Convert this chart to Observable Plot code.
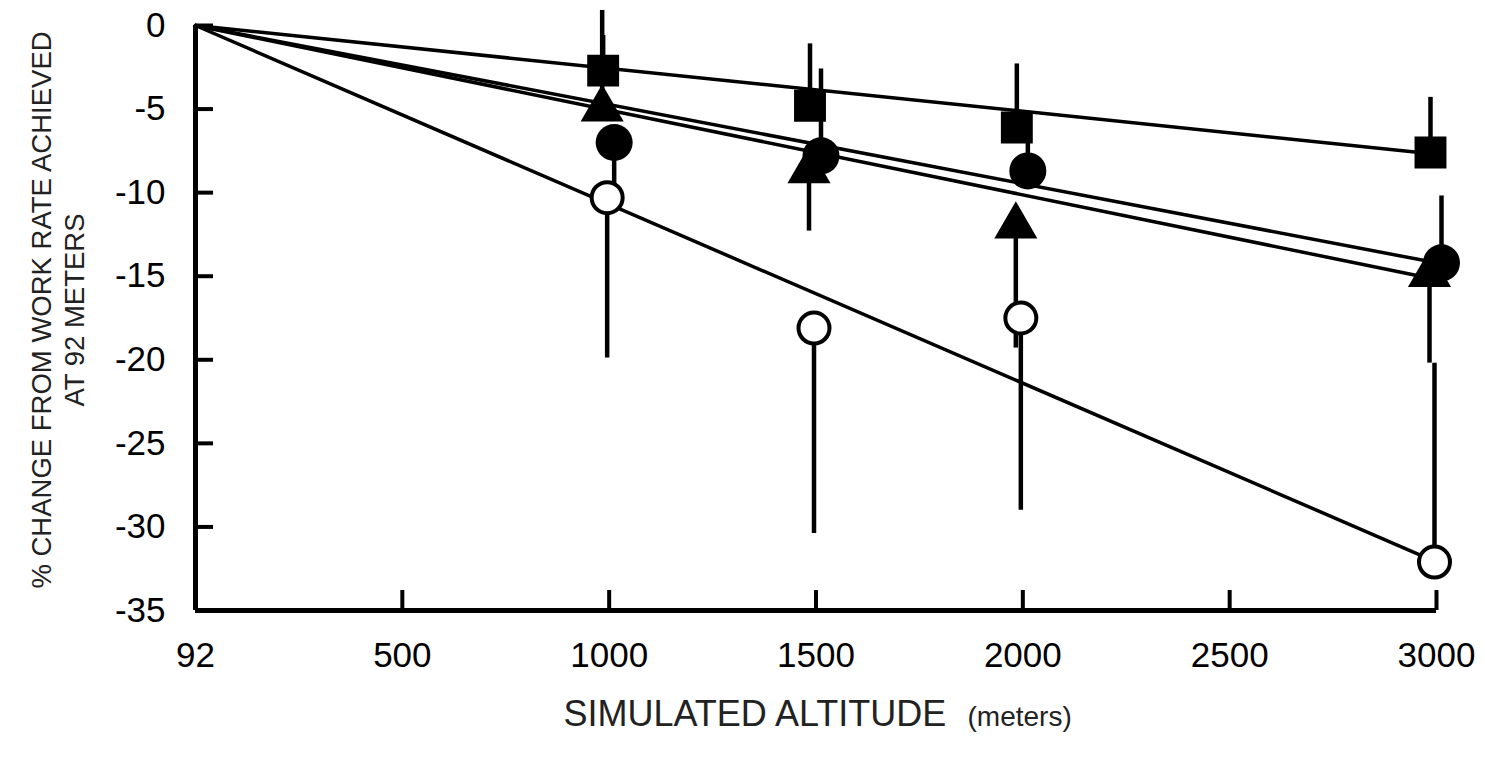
<!DOCTYPE html>
<html>
<head>
<meta charset="utf-8">
<script src="https://cdn.jsdelivr.net/npm/d3@7"></script>
<script src="https://cdn.jsdelivr.net/npm/@observablehq/plot@0.6"></script>
<style>
  body { margin: 0; background: #fff; }
  #chart svg { display: block; }
</style>
</head>
<body>
<div id="chart"></div>
<script>
// ---- data ----
const baseAltitude = 92;
const altitudes = [1000, 1500, 2000, 3000];
const xTicks = [92, 500, 1000, 1500, 2000, 2500, 3000];
const yTicks = [0, -5, -10, -15, -20, -25, -30, -35];

const squareValues       = [-2.7, -4.8, -6.1, -7.6];
const squareErrEnds      = [-0.6, -1.1, -2.3, -4.3];
const filledCircleValues = [-7.0, -7.8, -8.7, -14.2];
const filledCircleErrEnds= [-11.1, -2.6, -5.4, -10.2];
const triangleValues     = [-5.0, -8.7, -12.0, -14.9];
const triangleErrEnds    = [0.9, -12.3, -19.3, -20.2];
const openCircleValues   = [-10.3, -18.1, -17.5, -32.1];
const openCircleErrEnds  = [-19.9, -30.4, -29.0, -20.2];

// regression lines from (92 m, 0 %) to 3000 m
const fitSeries = ["square", "filledCircle", "triangle", "openCircle"];
const fitEndAltitude = 3000;
const fitEndValues = [-7.7, -14.2, -15.2, -32.1];

const xLabelMain = "SIMULATED ALTITUDE";
const xLabelUnit = "(meters)";
const yLabel = "% CHANGE FROM WORK RATE ACHIEVED\nAT 92 METERS";

// ---- tables built from the arrays ----
const rows = (vals, errs) => altitudes.map((alt, i) => ({alt, v: vals[i], err: errs[i]}));
const squares = rows(squareValues, squareErrEnds);
const filledCircles = rows(filledCircleValues, filledCircleErrEnds);
const triangles = rows(triangleValues, triangleErrEnds);
const openCircles = rows(openCircleValues, openCircleErrEnds);
const fits = fitSeries.flatMap((s, i) => [
  {series: s, alt: baseAltitude, v: 0},
  {series: s, alt: fitEndAltitude, v: fitEndValues[i]}
]);

// ---- layout ----
const W = 1485, H = 761;
const ML = 195, MR = 49, MT = 25, MB = 151;
const X0 = ML, X1 = W - MR;
const font = "'Liberation Sans', Arial, Helvetica, sans-serif";

const chart = Plot.plot({
  width: W,
  height: H,
  marginLeft: ML,
  marginRight: MR,
  marginTop: MT,
  marginBottom: MB,
  style: {fontFamily: font, background: "#fff", color: "#000", fontSize: "35px"},
  x: {type: "linear", domain: [92, 500, 3000], range: [X0, X0 + (X1 - X0) / 6, X1]},
  y: {domain: [-35, 0]},
  marks: [
    // axis lines
    Plot.ruleY([-35], {x1: 92, x2: 3000, strokeWidth: 5}),
    Plot.ruleX([92], {y1: -35, y2: 0, strokeWidth: 5}),
    // inward ticks
    Plot.axisY({ticks: yTicks, tickSize: -18, strokeWidth: 4, fill: "none", label: null}),
    Plot.axisX({ticks: xTicks, tickSize: -20, strokeWidth: 4, fill: "none", label: null}),
    // tick labels
    Plot.axisY({ticks: yTicks, tickSize: 0, tickPadding: 30, tickFormat: d => String(d), fontSize: 35, label: null}),
    Plot.axisX({ticks: xTicks, tickSize: 0, tickPadding: 32, tickFormat: d => String(d), fontSize: 35, label: null}),
    // regression lines
    Plot.line(fits, {x: "alt", y: "v", z: "series", stroke: "black", strokeWidth: 3.5}),
    // error bars
    Plot.ruleX(squares, {x: "alt", y1: "v", y2: "err", dx: -6, strokeWidth: 4.5}),
    Plot.ruleX(filledCircles, {x: "alt", y1: "v", y2: "err", dx: 5, strokeWidth: 4.5}),
    Plot.ruleX(triangles, {x: "alt", y1: "v", y2: "err", dx: -7, strokeWidth: 4.5}),
    Plot.ruleX(openCircles, {x: "alt", y1: "v", y2: "err", dx: -2, strokeWidth: 4.5}),
    // markers
    Plot.dot(squares, {x: "alt", y: "v", dx: -6, symbol: "square", r: 18, fill: "black"}),
    Plot.dot(filledCircles, {x: "alt", y: "v", dx: 5, symbol: "circle", r: 18.5, fill: "black"}),
    Plot.dot(triangles, {x: "alt", y: "v", dx: -7, symbol: "triangle", r: 16, fill: "black"}),
    Plot.dot(openCircles, {x: "alt", y: "v", dx: -2, symbol: "circle", r: 15.5, fill: "white", stroke: "black", strokeWidth: 4}),
    // axis titles
    Plot.text([yLabel], {frameAnchor: "left", rotate: -90, dx: -139, dy: -8, fontSize: 27.5, lineHeight: 1.2, lineAnchor: "middle", textAnchor: "middle", fill: "#222"}),
    Plot.text([xLabelMain], {frameAnchor: "bottom-left", textAnchor: "start", lineAnchor: "middle", dx: 368, dy: 104, fontSize: 36, fill: "#222"}),
    Plot.text([xLabelUnit], {frameAnchor: "bottom-left", textAnchor: "start", lineAnchor: "middle", dx: 772, dy: 107, fontSize: 28, fill: "#222"})
  ]
});

document.getElementById("chart").appendChild(chart);
</script>
</body>
</html>
